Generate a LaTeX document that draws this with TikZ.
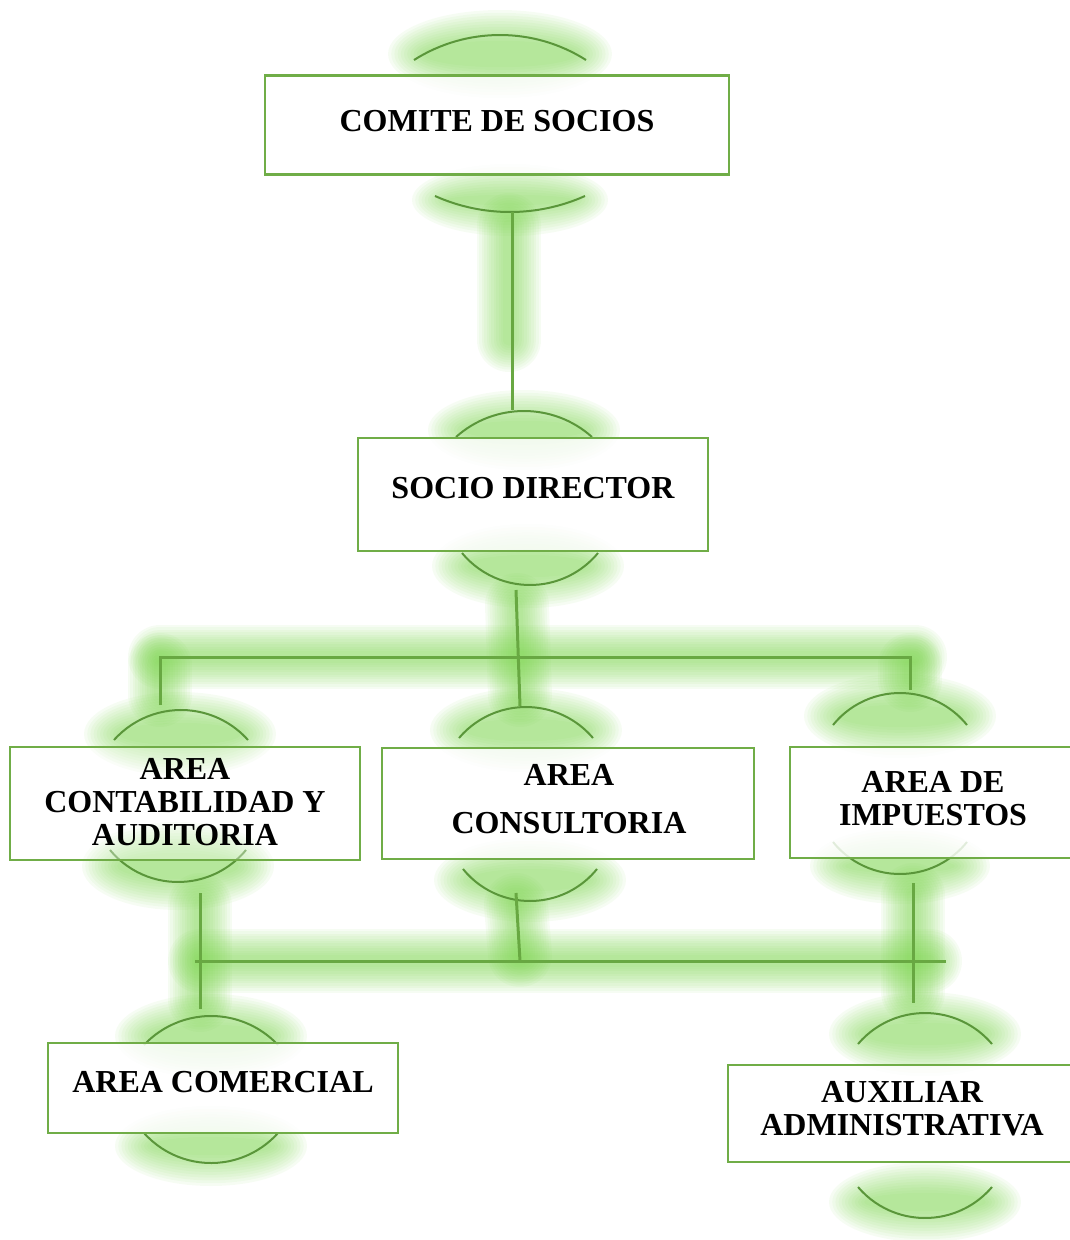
\documentclass[tikz,border=0pt]{standalone}
\usepackage{fontspec}
\setmainfont{Liberation Serif}

\definecolor{glowc}{RGB}{118,210,70}
\definecolor{framec}{RGB}{112,173,71}
\definecolor{arcc}{RGB}{90,150,58}
\definecolor{connc}{RGB}{104,168,66}

\tikzset{
  box/.style={draw=framec, line width=2.5pt, fill=white, fill opacity=0.82, inner sep=0pt},
  lbl/.style={font=\fontsize{32}{33}\selectfont\bfseries, align=center, inner sep=0pt, text=black},
  arcline/.style={draw=arcc, line width=2pt},
  conn/.style={draw=connc, line width=3pt},
}

% soft blurred halo: stacked translucent ellipses
\newcommand\glowblob[4]{%
  \foreach \gi in {0,...,11}{%
    \pgfmathsetmacro\gx{#3+20-3.2*\gi}\pgfmathsetmacro\gy{#4+18-2.8*\gi}%
    \fill[glowc, opacity=0.064] (#1,#2) ellipse[x radius=\gx, y radius=\gy];}}
% soft blurred band along a path
\newcommand\glowpath[1]{%
  \foreach \gi in {0,...,11}{%
    \pgfmathsetmacro\gw{64-4.8*\gi}%
    \draw[glowc, opacity=0.064, line width=\gw pt, line cap=round] #1;}}
% circular caps above / below a box: centre x, end y, half width, sagitta
\newcommand\capup[4]{%
  \pgfmathsetmacro\crr{(#3*#3+#4*#4)/(2*#4)}\pgfmathsetmacro\caa{asin(#3/\crr)}%
  \draw[arcline] ({#1-#3},#2) arc[start angle={270-\caa}, end angle={270+\caa}, radius=\crr];}
\newcommand\capdown[4]{%
  \pgfmathsetmacro\crr{(#3*#3+#4*#4)/(2*#4)}\pgfmathsetmacro\caa{asin(#3/\crr)}%
  \draw[arcline] ({#1-#3},#2) arc[start angle={90+\caa}, end angle={90-\caa}, radius=\crr];}

\begin{document}
\begin{tikzpicture}[x=1pt, y=-1pt]
\useasboundingbox (0,0) rectangle (1070,1240);
\clip (0,0) rectangle (1070,1240);

% connector end points
\coordinate (a1) at (512,212);  \coordinate (a2) at (512,410);
\coordinate (s1) at (516,590);  \coordinate (s2) at (520,706);
\coordinate (hl) at (160,657);  \coordinate (hr) at (910,657);
\coordinate (dl) at (160,705);  \coordinate (dr) at (910,690);
\coordinate (l1) at (200,893);  \coordinate (l2) at (200,1009);
\coordinate (m1) at (516,893);  \coordinate (m2) at (520,961);
\coordinate (r1) at (913,883);  \coordinate (r2) at (913,1003);
\coordinate (gl) at (195,961);  \coordinate (gr) at (946,961);

% halos
\glowblob{500}{54}{92}{26}
\glowblob{510}{200}{78}{18}
\glowpath{(509,225) -- (509,340)}
\glowblob{524}{430}{76}{22}
\glowblob{528}{566}{76}{24}
\glowpath{(517,605) -- (520,695)}
\glowpath{(160,657) -- (915,657)}
\glowpath{(160,665) -- (160,695)}
\glowpath{(910,665) -- (910,680)}
\glowblob{180}{734}{76}{24}
\glowblob{178}{866}{76}{26}
\glowblob{526}{730}{76}{24}
\glowblob{530}{880}{76}{24}
\glowblob{900}{716}{76}{24}
\glowblob{900}{866}{70}{20}
\glowpath{(200,905) -- (200,1000)}
\glowpath{(516,905) -- (520,955)}
\glowpath{(913,895) -- (913,992)}
\glowpath{(200,961) -- (930,961)}
\glowblob{211}{1036}{76}{24}
\glowblob{211}{1146}{76}{22}
\glowblob{925}{1034}{76}{24}
\glowblob{925}{1202}{76}{22}

% caps
\capup{500}{60}{86}{25}     \capdown{510}{196}{75}{16}
\capup{524}{437}{68}{26}    \capdown{530}{553}{68}{32}
\capup{181}{740}{67}{30}    \capdown{178}{850}{68}{32}
\capup{526}{738}{67}{31}    \capdown{530}{869}{67}{32}
\capup{900}{725}{67}{32}    \capdown{900}{842}{67}{32}
\capup{211}{1045}{67}{29}   \capdown{211}{1133}{67}{30}
\capup{925}{1044}{67}{31}   \capdown{925}{1187}{67}{31}

% boxes
\node[box, minimum width=464, minimum height=99] (b1) at (497,125) {};
\node[box, minimum width=350, minimum height=113] (b2) at (533,494.5) {};
\node[box, minimum width=350, minimum height=113, fill opacity=0.35] (b3) at (185,803.5) {};
\node[box, minimum width=372, minimum height=111] (b4) at (568,803.5) {};
\node[box, minimum width=285, minimum height=111] (b5) at (932.5,802.5) {};
\node[box, minimum width=350, minimum height=90] (b6) at (223,1088) {};
\node[box, minimum width=347, minimum height=97] (b7) at (901.5,1113.5) {};

% connectors
\draw[conn] (a1) -- (a2);
\draw[conn] (s1) -- (s2);
\draw[conn] (dl) -- (hl) -- (hr) -- (dr);
\draw[conn] (l1) -- (l2);
\draw[conn] (m1) -- (m2);
\draw[conn] (r1) -- (r2);
\draw[conn] (gl) -- (gr);

% labels (multi-line nodes are placed by the baseline of their last line)
\node[lbl, anchor=base] (t1) at (497,131) {COMITE DE SOCIOS};
\node[lbl, anchor=base] (t2) at (533,498) {SOCIO DIRECTOR};
\node[lbl, anchor=base] (t3) at (185,845) {AREA\\CONTABILIDAD Y\\AUDITORIA};
\node[lbl, anchor=base] (t4) at (569,833) {AREA\\[15pt]CONSULTORIA};
\node[lbl, anchor=base] (t5) at (933,825) {AREA DE\\IMPUESTOS};
\node[lbl, anchor=base] (t6) at (223,1092) {AREA COMERCIAL};
\node[lbl, anchor=base] (t7) at (902,1135) {AUXILIAR\\ADMINISTRATIVA};
\end{tikzpicture}
\end{document}
